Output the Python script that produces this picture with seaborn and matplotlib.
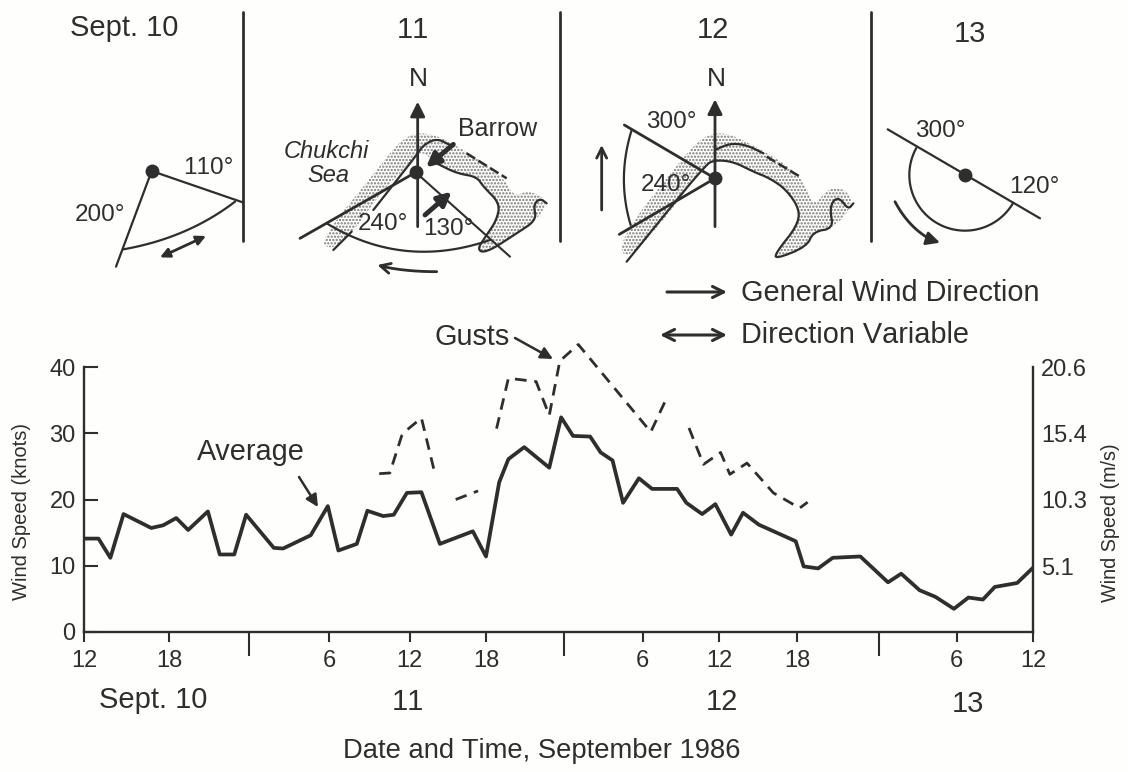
import numpy as np
import pandas as pd
import matplotlib
matplotlib.use("Agg")
import matplotlib.pyplot as plt
import seaborn as sns
from matplotlib.patches import Polygon

sns.set_style("white")
plt.rcParams['font.family'] = ['Liberation Sans', 'DejaVu Sans']
plt.rcParams['hatch.linewidth'] = 1.1
plt.rcParams['text.kerning_factor'] = 8

INK = "#2e2e2e"
PAPER = "#fefefd"

# average wind speed, hours since noon Sept. 10
avg_hours = [0, 1.1, 2, 3, 5.1, 6, 7, 7.9, 9.4, 10.3, 11.4, 12.3, 14.4, 15.1, 17.2, 18.5,
             19.3, 20.7, 21.5, 22.7, 23.5, 24.5, 25.6, 27, 29.5, 30.5, 31.5, 32.2, 33.4,
             35.3, 36.2, 37.1, 38.4, 39.2, 40.1, 40.9, 42.1, 43.1, 45, 45.7, 46.9, 47.9,
             49.1, 50, 51.2, 54, 54.6, 55.7, 56.8, 58.9, 61, 62, 63.4, 64.6, 66, 67.1,
             68.2, 69.1, 70.8, 72]
avg_knots = [14.1, 14.1, 11.2, 17.8, 15.7, 16.1, 17.2, 15.4, 18.2, 11.7, 11.7, 17.7, 12.7,
             12.6, 14.6, 19, 12.3, 13.3, 18.3, 17.5, 17.7, 21, 21.1, 13.3, 15.2, 11.4,
             22.6, 26.1, 27.9, 24.8, 32.4, 29.6, 29.5, 27.1, 25.9, 19.5, 23.2, 21.6, 21.6,
             19.5, 17.8, 19.3, 14.7, 18, 16.2, 13.7, 9.9, 9.6, 11.2, 11.4, 7.5, 8.8, 6.3,
             5.3, 3.5, 5.2, 4.9, 6.8, 7.4, 9.7]

# gusts come in four broken pieces
gust_hours = [[22.4, 23.2, 24.1, 24.5, 25.6, 26.6],
              [28.2, 29.9],
              [31.3, 32.2, 34.3, 35.3, 36.1, 37.5, 43, 44.3],
              [45.9, 47, 48.3, 49, 50.3, 52.3, 54.3, 54.9]]
gust_knots = [[23.9, 24, 29.6, 30.5, 32.3, 24.1],
              [20, 21.3],
              [30.7, 38.3, 37.8, 32.7, 40.9, 43.4, 30.2, 35.7],
              [30.8, 25.3, 27.1, 23.8, 25.5, 21, 18.7, 19.6]]

# the printed axis is not evenly spaced, ticks are as read off the picture
hour_ticks = [0, 6.45, 12.5, 18.6, 24.7, 30.5, 36.4, 42.4, 48.2, 54.1, 60.3, 66.2, 72]
hour_labels = ['12', '18', '', '6', '12', '18', '', '6', '12', '18', '', '6', '12']
knot_ticks = [0, 10, 20, 30, 40]
ms_ticks = [5.1, 10.3, 15.4, 20.6]
ms_labels = ['5.1', '10.3', '15.4', '20.6']

fig = plt.figure(figsize=(11.28, 7.72), dpi=100, facecolor=PAPER)
ax = fig.add_axes([84 / 1128, (772 - 632) / 772, 949 / 1128, 265 / 772])
ax.patch.set_alpha(0)

df_avg = pd.DataFrame({'hour': avg_hours, 'knots': avg_knots})
sns.lineplot(data=df_avg, x='hour', y='knots', color=INK, lw=2.7, ax=ax, sort=False, estimator=None)
for h, k in zip(gust_hours, gust_knots):
    df_gust = pd.DataFrame({'hour': h, 'knots': k})
    sns.lineplot(data=df_gust, x='hour', y='knots', color=INK, lw=2, ax=ax, sort=False,
                 estimator=None, linestyle=(0, (4.2, 2.8)), clip_on=False)

ax.set_xlim(0, 72)
ax.set_ylim(0, 40)
ax.set_xticks(hour_ticks)
ax.set_xticklabels(hour_labels, fontsize=17, color=INK)
ax.set_yticks(knot_ticks)
ax.set_yticklabels(knot_ticks, fontsize=17, color=INK)
ax.tick_params(axis='x', bottom=True, direction='out', length=7, width=1.5, color=INK, pad=6)
ax.tick_params(axis='y', left=True, direction='in', length=10, width=1.5, color=INK, pad=6)
for tick, lab in zip(ax.xaxis.get_major_ticks(), hour_labels):
    if lab == '':
        tick.tick1line.set_markersize(17)
ax.set_xlabel('')
ax.set_ylabel('Wind Speed (knots)', fontsize=14.5, color=INK)
ax.yaxis.set_label_coords((31 - 84) / 949, (632 - 512) / 265)
sns.despine(ax=ax, top=True, right=True)

ax2 = ax.twinx()
ax2.patch.set_alpha(0)
ax2.set_ylim(0, 20.58)
ax2.set_yticks(ms_ticks)
ax2.set_yticklabels(ms_labels, fontsize=17, color=INK)
ax2.tick_params(axis='y', right=True, direction='in', length=10, width=1.5, color=INK, pad=6)
ax2.set_ylabel('Wind Speed (m/s)', fontsize=14.2, color=INK)
ax2.yaxis.set_label_coords(1 + (1101 - 1033) / 949, (632 - 523) / 265)
sns.despine(ax=ax2, top=True, left=True, bottom=True, right=False)
for a in (ax, ax2):
    for s in a.spines.values():
        s.set_linewidth(1.7)
        s.set_color(INK)

# overlay in picture pixels for the wind diagrams and the loose labels
ov = fig.add_axes([0, 0, 1, 1], zorder=5)
ov.set_xlim(0, 1128)
ov.set_ylim(772, 0)
ov.axis('off')
ov.patch.set_alpha(0)


def zm(pts, ox, oy):
    pts = np.array(pts, dtype=float)
    return ox + pts[:, 0] / 3, oy + pts[:, 1] / 3


def smooth(pts, closed=False, n=3):
    # corner cutting so the hand drawn coast is not so angular
    p = np.array(pts, dtype=float)
    for _ in range(n):
        nxt = np.roll(p, -1, axis=0) if closed else p[1:]
        cur = p if closed else p[:-1]
        q = np.empty((len(cur) * 2, 2))
        q[0::2] = 0.75 * cur + 0.25 * nxt
        q[1::2] = 0.25 * cur + 0.75 * nxt
        p = q if closed else np.vstack([p[0], q, p[-1]])
    return p


def curve(a, c, b, ox, oy, lw=1.6):
    t = np.linspace(0, 1, 40)[:, None]
    a, c, b = np.array(a), np.array(c), np.array(b)
    p = (1 - t) ** 2 * a + 2 * t * (1 - t) * c + t ** 2 * b
    x, y = zm(p, ox, oy)
    ov.plot(x, y, color=INK, lw=lw, solid_capstyle='round')


def seg(pts, ox, oy, lw=1.6, **kw):
    x, y = zm(pts, ox, oy)
    ov.plot(x, y, color=INK, lw=lw, solid_joinstyle='round', **kw)


def arrow(p0, p1, ox=0, oy=0, style='-|>', lw=1.8, scale=16):
    x, y = zm([p0, p1], ox, oy) if ox or oy else ([p0[0], p1[0]], [p0[1], p1[1]])
    ov.annotate('', xy=(x[1], y[1]), xytext=(x[0], y[0]),
                arrowprops=dict(arrowstyle=style, color=INK, lw=lw, mutation_scale=scale,
                                shrinkA=0, shrinkB=0))


def stipple(pts, ox, oy):
    x, y = zm(smooth(pts, closed=True, n=2), ox, oy)
    ov.add_patch(Polygon(np.c_[x, y], closed=True, fill=False, hatch='.....',
                         edgecolor='#777777', lw=0))


def label(x, y, s, size=17.5, **kw):
    ov.text(x, y + 2, s, fontsize=size, color=INK, ha='center', va='center', **kw)


# dividers and day titles
for x in (243, 560, 871):
    ov.plot([x, x], [12, 241], color=INK, lw=2)
label(124, 26, 'Sept. 10', 21)
label(413, 28, '11', 21)
label(713, 28, '12', 21)
label(970, 32, '13', 21)

# Sept. 10
seg([(168, 800), (275, 513), (548, 607)], 60, 0)
curve((190, 748), (383, 714), (525, 605), 60, 0)
ov.plot([152], [171], 'o', color=INK, ms=9)
arrow((300, 772), (438, 708), 60, 0, style='<|-|>', lw=2, scale=14)
label(208, 166, '110°')
label(100, 213, '200°')

# Sept. 11
stipple([(150, 570), (320, 360), (400, 260), (470, 245), (560, 285), (700, 380), (730, 440),
         (780, 420), (835, 455), (800, 510), (740, 550), (650, 610), (620, 600), (680, 510),
         (690, 460), (640, 410), (620, 380), (560, 370), (500, 340), (450, 300), (420, 340),
         (330, 430), (240, 560), (180, 600)], 270, 50)
seg([(190, 600), (245, 545)], 270, 50)
seg(smooth([(310, 480), (440, 315), (460, 285), (500, 265), (540, 285)]), 270, 50)
seg([(590, 310), (710, 385)], 270, 50, lw=1.8, linestyle=(0, (4, 1.5)))
seg(smooth([(500, 340), (560, 370), (620, 380), (640, 410), (690, 460), (680, 510), (650, 555),
            (620, 600), (650, 608), (740, 550), (800, 510), (790, 465), (810, 445), (830, 460)]),
    270, 50)
seg([(90, 565), (437, 367)], 270, 50, lw=2)
seg([(437, 367), (720, 620)], 270, 50, lw=1.5)
curve((170, 520), (400, 660), (660, 570), 270, 50)
ov.plot([416], [172], 'o', color=INK, ms=9)
arrow((443, 530), (443, 155), 270, 50, lw=2, scale=22)
arrow((465, 495), (545, 425), 270, 50, lw=3.5, scale=20)
arrow((550, 283), (468, 352), 270, 50, lw=3.5, scale=20)
curve((500, 665), (410, 665), (340, 650), 270, 50, lw=2)
arrow((345, 651), (322, 645), 270, 50, style='->', lw=2, scale=18)
label(418, 77, 'N', 19)
label(326, 150, 'Chukchi', 17, style='italic')
label(328, 173, 'Sea', 17, style='italic')
label(498, 127, 'Barrow', 18)
label(383, 222, '240°')
label(448, 227, '130°')

# Sept. 12
stipple([(85, 570), (280, 320), (340, 260), (400, 245), (480, 280), (600, 350), (650, 410),
         (670, 470), (720, 410), (770, 420), (790, 465), (730, 535), (670, 545), (650, 590),
         (560, 628), (560, 605), (620, 530), (630, 480), (590, 420), (540, 385), (490, 365),
         (430, 335), (375, 330), (345, 345), (230, 500), (110, 635)], 590, 50)
seg(smooth([(375, 300), (420, 280), (470, 285), (520, 310)]), 590, 50)
seg([(530, 320), (630, 380)], 590, 50, lw=1.8, linestyle=(0, (4, 1.5)))
seg(smooth([(110, 635), (345, 345), (375, 330), (430, 335), (490, 365), (540, 385), (590, 420),
            (630, 480), (620, 530), (560, 605), (555, 628), (650, 590), (670, 545), (730, 535),
            (720, 480), (730, 450), (750, 445), (775, 478), (790, 460)], n=2), 590, 50)
seg([(103, 225), (375, 385), (88, 553)], 590, 50, lw=2)
curve((125, 240), (80, 385), (122, 525), 590, 50)
ov.plot([715], [178], 'o', color=INK, ms=9)
arrow((375, 530), (375, 148), 590, 50, lw=2, scale=22)
arrow((35, 480), (35, 285), 590, 50, style='->', lw=2, scale=18)
label(716, 77, 'N', 19)
label(671, 120, '300°')
label(666, 183, '240°')

# Sept. 13
seg([(83, 388), (540, 655)], 860, 0)
ang = np.radians(np.linspace(209, 30, 60))
seg(np.c_[315 + 167 * np.cos(ang), 525 + 167 * np.sin(ang)], 860, 0)
ov.plot([965], [175], 'o', color=INK, ms=9)
curve((105, 605), (150, 690), (225, 725), 860, 0, lw=2)
arrow((215, 720), (240, 728), 860, 0, lw=2, scale=20)
label(940, 129, '300°')
label(1034, 185, '120°')

# key for the arrows
arrow((667, 292), (727, 292), style='->', lw=2.2, scale=20)
arrow((660, 335), (727, 335), style='<->', lw=2.2, scale=20)
ov.text(741, 293, 'General Wind Direction', fontsize=20.8, color=INK, va='center')
ov.text(741, 335, 'Direction Variable', fontsize=20.8, color=INK, va='center')

# chart labels
label(472, 335, 'Gusts', 20.8)
arrow((515, 338), (553, 359), lw=1.8, scale=18)
label(251, 450, 'Average', 20.8)
arrow((299, 477), (318, 507), lw=1.8, scale=18)
label(153, 698, 'Sept. 10', 21)
label(408, 700, '11', 21)
label(722, 700, '12', 21)
label(968, 702, '13', 21)
label(542, 749, 'Date and Time, September 1986', 19.7)

plt.savefig("out.png", dpi=100, facecolor=PAPER)
